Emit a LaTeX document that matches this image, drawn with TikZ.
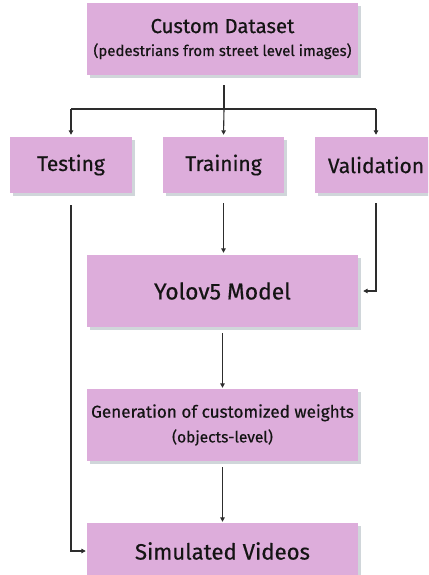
\documentclass[tikz,border=0pt]{standalone}
\usepackage{fontspec}
\setmainfont{Fira Sans}[FakeBold=0.5]
\usetikzlibrary{arrows.meta,shadows}
\definecolor{boxfill}{RGB}{221,173,219}
\definecolor{boxshade}{RGB}{208,214,218}
\definecolor{linkcol}{RGB}{45,45,45}
\tikzset{
  stage/.style={fill=boxfill, draw=none, inner sep=0pt, align=center,
    text=black!92,
    drop shadow={shadow xshift=3bp, shadow yshift=-3bp, fill=boxshade, opacity=1}},
  link/.style={draw=linkcol, line width=1.1bp, -{Triangle[length=4.5bp,width=4.5bp]}},
  plain/.style={draw=linkcol, line width=1.1bp}
}
\newcommand{\fsz}[1]{\fontsize{#1bp}{#1bp}\selectfont}
\begin{document}
\begin{tikzpicture}[x=1bp,y=-1bp]
\useasboundingbox (0,0) rectangle (428,575);
\clip (0,0) rectangle (428,575);
% stages
\node[stage, minimum width=271bp, minimum height=72bp] (data) at (222.5,39)
  {{\fsz{20.3}Custom Dataset}\\[9bp]{\fsz{15}(pedestrians from street level images)}};
\node[stage, minimum width=122bp, minimum height=56bp] (test) at (71,165)
  {\raisebox{-2bp}{\fsz{21}Testing}};
\node[stage, minimum width=121bp, minimum height=56bp] (train) at (223.5,165)
  {\raisebox{-2bp}{\fsz{21}Training}};
\node[stage, minimum width=122bp, minimum height=56bp] (valid) at (376,165)
  {\raisebox{-2bp}{\fsz{21}Validation}};
\node[stage, minimum width=271bp, minimum height=72bp] (yolo) at (222.5,291)
  {\raisebox{-2bp}{\fsz{22.8}Yolov5 Model}};
\node[stage, minimum width=271bp, minimum height=72bp] (gen) at (222.5,425)
  {{\fsz{17.1}Generation of customized weights}\\[7bp]{\fsz{15.5}(objects-level)}};
\node[stage, minimum width=271bp, minimum height=56bp] (sim) at (222.5,551)
  {\fsz{22.2}Simulated Videos};
% split of the dataset
\coordinate (split) at (224,109);
\draw[plain, shorten <=10bp] (data.south -| split) -- (split);
\draw[plain] (test.north |- split) -- (valid.north |- split);
\draw[link, shorten >=2bp] (test.north |- split) -- (test.north);
\draw[link, shorten >=2bp] (split) -- (train.north);
\draw[link, shorten >=2bp] (valid.north |- split) -- (valid.north);
% training path
\draw[link, shorten <=10bp, shorten >=2bp] (train.south) -- (yolo.north -| train.south);
\draw[link, shorten <=10bp, shorten >=5bp] (valid.south) |- (yolo.east);
\draw[link, shorten <=6bp, shorten >=1bp] (yolo.south) -- (gen.north);
\draw[link, shorten <=6bp, shorten >=1bp] (gen.south) -- (sim.north);
% testing path
\coordinate (simin) at (sim.west |- 0,551);
\draw[link, shorten <=12bp, shorten >=1bp] (test.south) |- (simin);
\end{tikzpicture}
\end{document}
